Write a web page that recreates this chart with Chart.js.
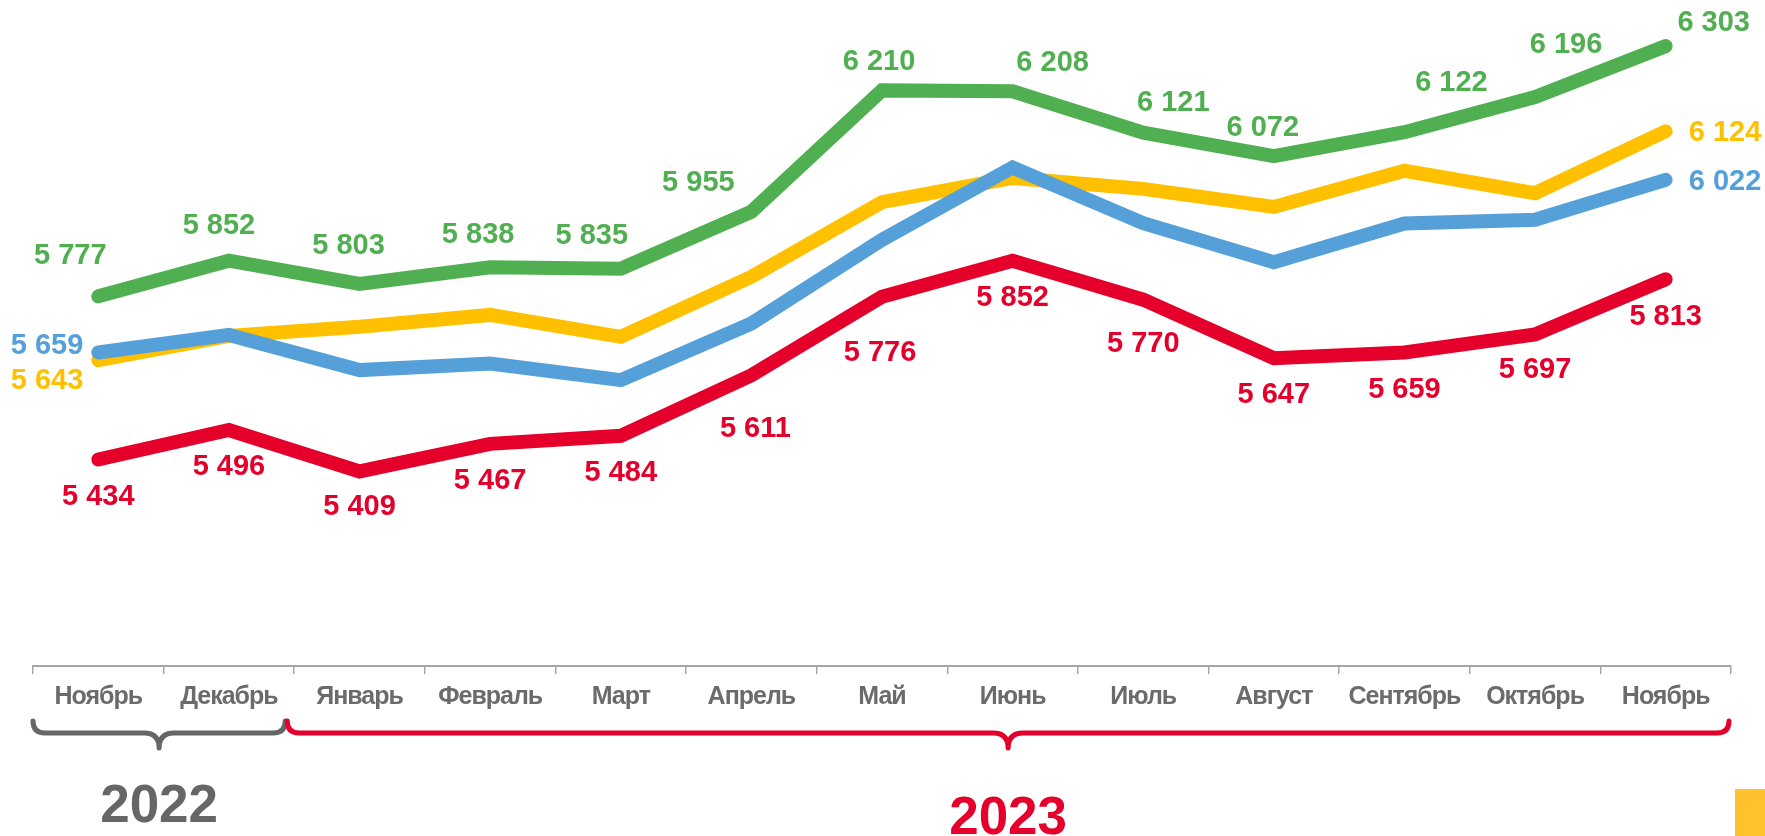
<!DOCTYPE html>
<html><head><meta charset="utf-8">
<script src="https://cdn.jsdelivr.net/npm/chart.js@4.4.1/dist/chart.umd.min.js"></script>
<style>
html,body{margin:0;padding:0;background:#fff;overflow:hidden}
#wrap{position:relative;width:1765px;height:836px}
#sq{position:absolute;left:1735px;top:789px;width:30px;height:47px;background:#FFC12E}
</style></head><body>
<div id="wrap"><canvas id="c" width="1765" height="836"></canvas><div id="sq"></div></div>
<script>
const categories = ['Ноябрь','Декабрь','Январь','Февраль','Март','Апрель','Май','Июнь','Июль','Август','Сентябрь','Октябрь','Ноябрь'];
const greenValues  = [5777,5852,5803,5838,5835,5955,6210,6208,6121,6072,6122,6196,6303];
const yellowValues = [5643,5694,5713,5738,5692,5818,5975,6026,6003,5965,6041,5994,6124];
const blueValues   = [5659,5696,5622,5636,5601,5720,5896,6048,5931,5849,5930,5938,6022];
const redValues    = [5434,5496,5409,5467,5484,5611,5776,5852,5770,5647,5659,5697,5813];
const yearGroups = [
  {text:'2022', from:0, to:1, color:'#666666'},
  {text:'2023', from:2, to:12, color:'#E4002B'}
];

const COLORS = {green:'#50AF50', yellow:'#FFC000', blue:'#55A0D8', red:'#E4002B'};
const FONT = '"Liberation Sans", Arial, sans-serif';

// label placement (style: offsets from the point, in px)
const greenDx = [-28,-10,-11,-12,-29,-53,-3,40,30,-11,47,31,48];
const greenDy = [-40,-35,-38,-32,-33,-29,-28,-28,-30,-28,-49,-52,-23];
const redDx   = [0,0,0,0,0,4,-2,0,0,0,0,0,0];
const redDy   = [37,37,36,37,37,54,56,37,44,37,37,36,38];
const yearBaselineDy = [74, 86];

function fmt(v){ return String(v).replace(/\B(?=(\d{3})+(?!\d))/g, ' '); }

const labelPlugin = {
  id:'labels',
  beforeDraw(chart){ chart.ctx.letterSpacing = '-1px'; },
  afterDatasetsDraw(chart){
    const ctx = chart.ctx;
    ctx.save();
    ctx.letterSpacing = '0px';
    ctx.font = 'bold 29px ' + FONT;
    ctx.textBaseline = 'middle';
    chart.data.datasets.forEach((ds, di) => {
      const meta = chart.getDatasetMeta(di);
      ctx.fillStyle = ds.borderColor;
      const n = ds.data.length;
      meta.data.forEach((pt, i) => {
        const txt = fmt(ds.data[i]);
        if (ds.key === 'green') {
          ctx.textAlign = 'center';
          ctx.fillText(txt, pt.x + greenDx[i], pt.y + greenDy[i]);
        } else if (ds.key === 'red') {
          ctx.textAlign = 'center';
          ctx.fillText(txt, pt.x + redDx[i], pt.y + redDy[i]);
        } else if (i === 0) {
          ctx.textAlign = 'right';
          ctx.fillText(txt, pt.x - 15, pt.y + (ds.key === 'blue' ? -7 : 21));
        } else if (i === n - 1) {
          ctx.textAlign = 'left';
          ctx.fillText(txt, pt.x + 23, pt.y + 2);
        }
      });
    });
    ctx.restore();
  },
  afterDraw(chart){
    const ctx = chart.ctx;
    const xs = chart.scales.x;
    const half = (xs.getPixelForValue(1) - xs.getPixelForValue(0)) / 2;
    const axisY = xs.top;
    ctx.save();
    ctx.letterSpacing = '0px';
    yearGroups.forEach((g, gi) => {
      let x1 = xs.getPixelForValue(g.from) - half;
      let x2 = xs.getPixelForValue(g.to) + half;
      if (gi === 0) { x2 -= 9; } else { x1 -= 7; x2 -= 2; }
      const yTop = axisY + 56, yBot = axisY + 67, tip = axisY + 82, r = 12, rt = 15;
      const mid = (x1 + x2) / 2;
      ctx.beginPath();
      ctx.moveTo(x1, yTop);
      ctx.lineTo(x1, yBot - r);
      ctx.quadraticCurveTo(x1, yBot, x1 + r, yBot);
      ctx.lineTo(mid - rt, yBot);
      ctx.quadraticCurveTo(mid, yBot, mid, tip);
      ctx.quadraticCurveTo(mid, yBot, mid + rt, yBot);
      ctx.lineTo(x2 - r, yBot);
      ctx.quadraticCurveTo(x2, yBot, x2, yBot - r);
      ctx.lineTo(x2, yTop);
      ctx.strokeStyle = g.color;
      ctx.lineWidth = 5;
      ctx.lineCap = 'round';
      ctx.lineJoin = 'round';
      ctx.stroke();
      ctx.fillStyle = g.color;
      ctx.font = 'bold 53px ' + FONT;
      ctx.textAlign = 'center';
      ctx.textBaseline = 'alphabetic';
      ctx.fillText(g.text, mid, tip + yearBaselineDy[gi]);
    });
    ctx.restore();
  }
};

function mk(key, data){
  return {key, data, borderColor: COLORS[key], backgroundColor: COLORS[key],
    borderWidth: 14, pointRadius: 0, tension: 0, borderCapStyle: 'round',
    borderJoinStyle: 'miter', fill: false};
}

new Chart(document.getElementById('c'), {
  type: 'line',
  data: {
    labels: categories,
    datasets: [mk('blue', blueValues), mk('yellow', yellowValues), mk('green', greenValues), mk('red', redValues)]
  },
  options: {
    responsive: false,
    animation: false,
    devicePixelRatio: 1,
    layout: {padding: {left: 33, right: 34, top: 0, bottom: 0}},
    plugins: {legend: {display: false}, tooltip: {enabled: false}},
    scales: {
      y: {display: false, min: 5000, max: 6400},
      x: {
        offset: true,
        afterFit(scale){ scale.height = 170; },
        grid: {drawOnChartArea: false, drawTicks: true, tickLength: 8, color: '#A6A6A6', lineWidth: 1.5, offset: true},
        border: {display: true, color: '#A6A6A6', width: 2},
        ticks: {autoSkip: false, maxRotation: 0, padding: 8, color: '#6B6B6B',
          font: {family: FONT, size: 25, weight: 'bold'}}
      }
    }
  },
  plugins: [labelPlugin]
});
</script>
</body></html>
